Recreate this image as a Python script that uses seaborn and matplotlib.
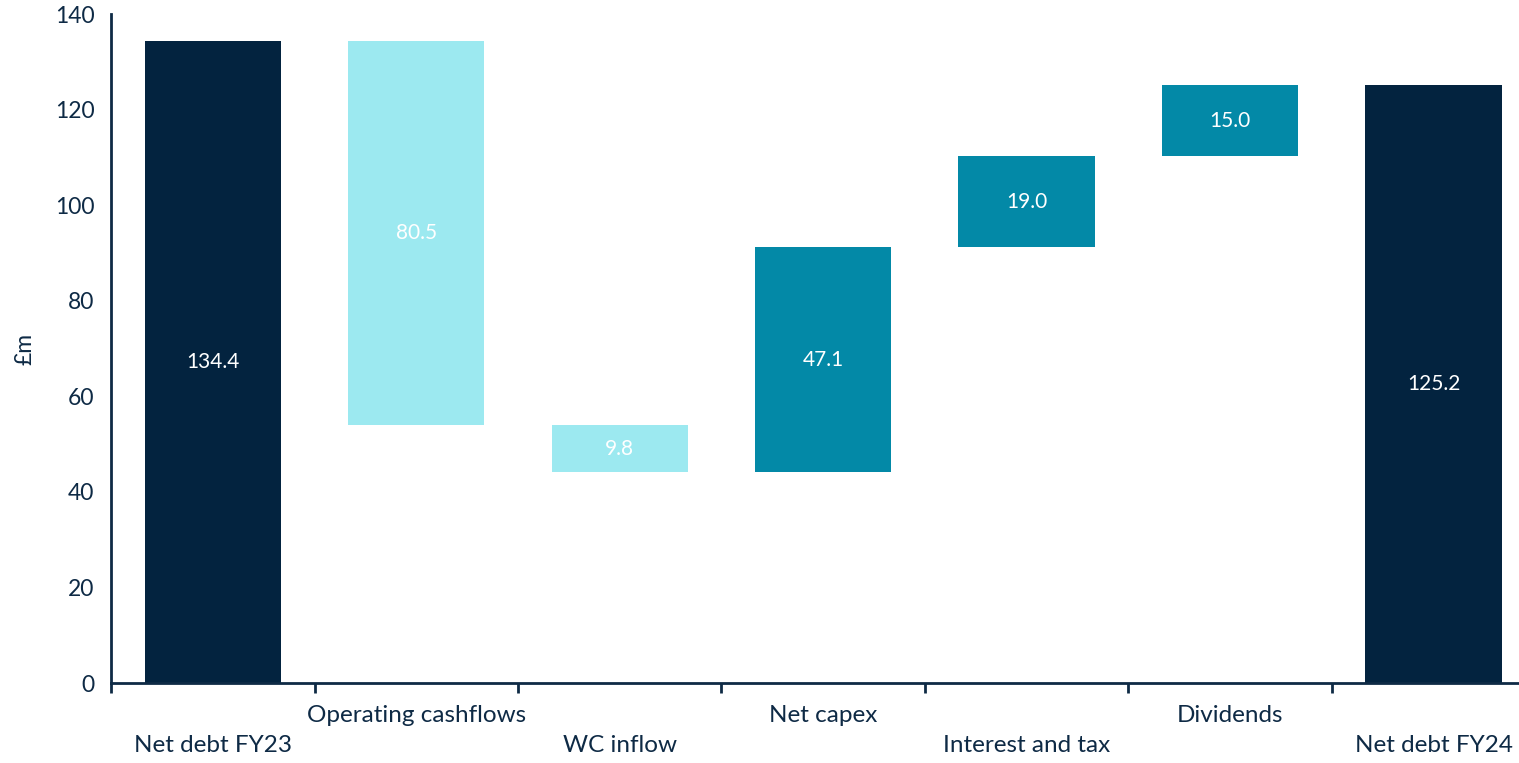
import matplotlib
matplotlib.use("Agg")
import matplotlib.pyplot as plt
import seaborn as sns
import pandas as pd
import numpy as np

categories = ["Net debt FY23", "Operating cashflows", "WC inflow", "Net capex",
              "Interest and tax", "Dividends", "Net debt FY24"]
changes = [134.4, -80.5, -9.8, 47.1, 19.0, 15.0, 125.2]
kinds = ["total", "decrease", "decrease", "increase", "increase", "increase", "total"]
value_labels = ["134.4", "80.5", "9.8", "47.1", "19.0", "15.0", "125.2"]

colors = {"total": "#03233F", "decrease": "#9CE9F0", "increase": "#0389A7"}
text_col = "#0E2A45"

# running totals
bottoms, tops = [], []
level = 0.0
for c, k in zip(changes, kinds):
    if k == "total":
        bottoms.append(0.0); tops.append(c); level = c
    else:
        new = level + c
        bottoms.append(min(level, new)); tops.append(max(level, new)); level = new

df = pd.DataFrame({"cat": categories, "top": tops, "bottom": bottoms, "kind": kinds})

sns.set_theme(style="white")
plt.rcParams["font.family"] = ["Lato", "DejaVu Sans"]

fig = plt.figure(figsize=(15.19, 7.63), dpi=100)
ax = fig.add_axes([0.0731, 0.1048, 0.9269, 0.8768])

sns.barplot(data=df, x="cat", y="top", hue="cat", palette=[colors[k] for k in kinds],
            legend=False, width=0.67, ax=ax, saturation=1)

for p, b, t in zip(ax.patches, bottoms, tops):
    p.set_y(b)
    p.set_height(t - b)
    p.set_edgecolor("none")

for i, (b, t, lab) in enumerate(zip(bottoms, tops, value_labels)):
    ax.text(i, (b + t) / 2, lab, ha="center", va="center", color="white", fontsize=15)

n = len(categories)
# major ticks at category boundaries (marks only)
ax.set_xticks(np.arange(-0.5, n - 0.5 + 0.01, 1.0))
ax.set_xticklabels([""] * (n + 1))
ax.tick_params(axis="x", which="major", bottom=True, length=7, width=2, color=text_col,
               direction="out")
# minor ticks at centres carry the staggered labels
ax.set_xticks(np.arange(n), minor=True)
ax.set_xticklabels([("\n" + c) if i % 2 == 0 else c for i, c in enumerate(categories)],
                   minor=True, fontsize=17.5, color=text_col, linespacing=1.5)
ax.tick_params(axis="x", which="minor", bottom=True, length=0, pad=16)

ax.set_ylim(0, 140)
ax.set_xlim(-0.5, 6.42)
ax.set_yticks(np.arange(0, 141, 20))
ax.tick_params(axis="y", left=False, length=0, labelsize=16.5, labelcolor=text_col, pad=12)

ax.set_xlabel("")
ax.set_ylabel("£m", fontsize=16.5, color=text_col, labelpad=14)

for s in ["top", "right"]:
    ax.spines[s].set_visible(False)
for s in ["left", "bottom"]:
    ax.spines[s].set_color(text_col)
    ax.spines[s].set_linewidth(2)

fig.savefig("out.png", dpi=100)
